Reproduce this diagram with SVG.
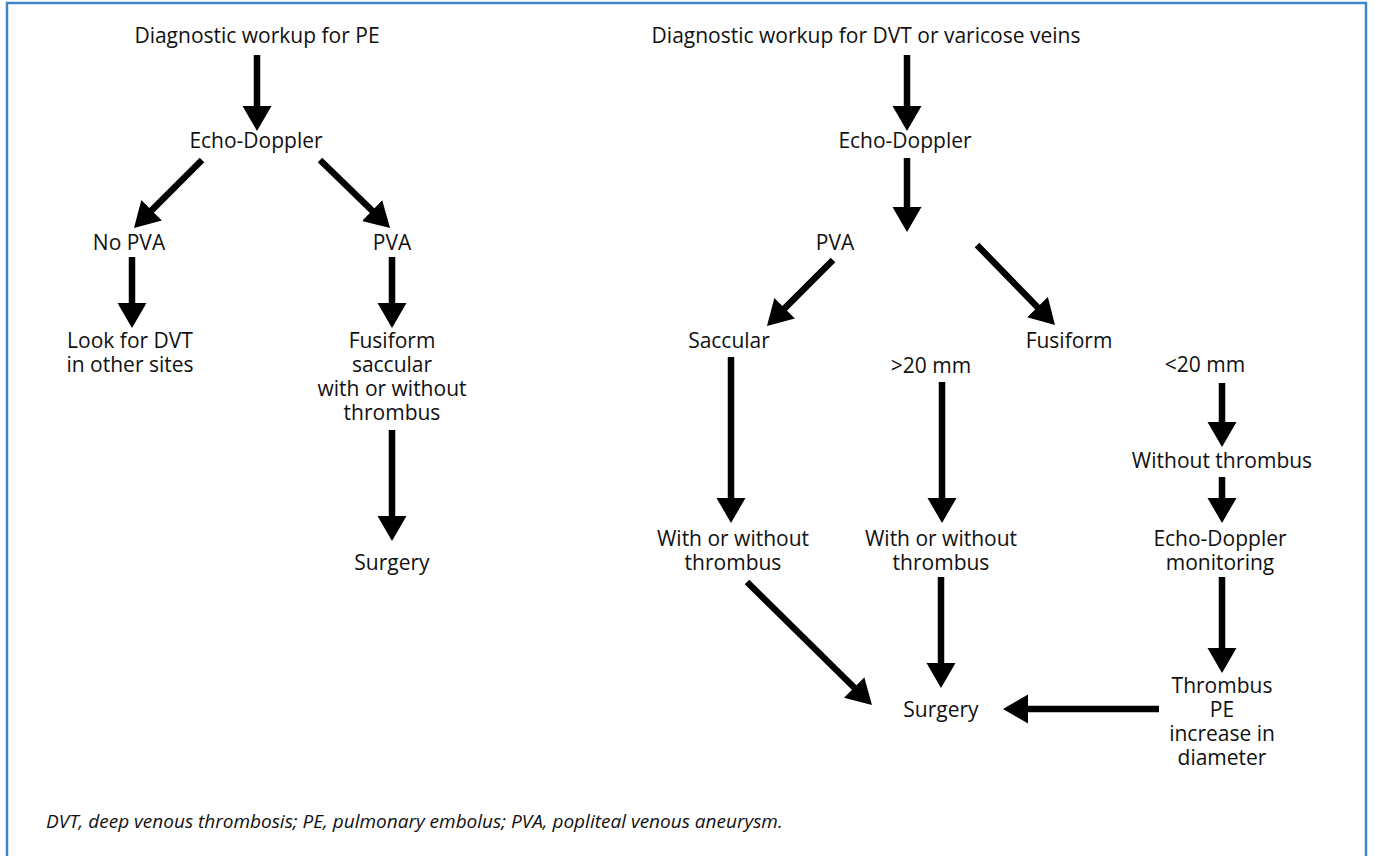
<svg xmlns="http://www.w3.org/2000/svg" width="1374" height="856" viewBox="0 0 1374 856">
<style>
.t{font-family:"Open Sans","Liberation Sans",sans-serif;font-size:21px;fill:#111;text-anchor:middle}
.f{font-family:"Open Sans","Liberation Sans",sans-serif;font-size:19px;font-style:italic;fill:#111}
.c line{stroke:#000;stroke-width:6.5;fill:none;marker-end:url(#ah)}
.frame{stroke:#3d85c6;stroke-width:2.5;fill:none}
</style>
<defs>
<marker id="ah" markerUnits="userSpaceOnUse" markerWidth="26" markerHeight="30" refX="5" refY="14.5" orient="auto" viewBox="0 0 26 29">
<path d="M0,0 L25,14.5 L0,29 z" fill="#000"/>
</marker>
</defs>
<rect width="1374" height="856" fill="#fff"/>
<path class="frame" d="M7,860 V3 H1366 V860"/>
<g id="connectors" class="c">
<line x1="257" y1="55" x2="257" y2="111"/>
<line x1="202" y1="160" x2="148.1" y2="213.9"/>
<line x1="320" y1="160" x2="375.7" y2="214.1"/>
<line x1="132" y1="257" x2="132" y2="308"/>
<line x1="392" y1="257" x2="392" y2="308"/>
<line x1="392" y1="430" x2="392" y2="521"/>
<line x1="907" y1="55" x2="907" y2="111"/>
<line x1="907" y1="158" x2="907" y2="212"/>
<line x1="833" y1="260" x2="781.1" y2="311.9"/>
<line x1="977" y1="245" x2="1041" y2="310.7"/>
<line x1="731" y1="357" x2="731" y2="503"/>
<line x1="942" y1="382" x2="942" y2="503"/>
<line x1="1222" y1="383" x2="1222" y2="427"/>
<line x1="1222" y1="477" x2="1222" y2="503"/>
<line x1="1222" y1="577" x2="1222" y2="653"/>
<line x1="941" y1="577" x2="941" y2="668"/>
<line x1="747" y1="582" x2="857.7" y2="691"/>
<line x1="1159" y1="709" x2="1023" y2="709"/>
</g>
<g id="pe-start"><text class="t" x="257" y="43">Diagnostic workup for PE</text></g>
<g id="pe-echo"><text class="t" x="256" y="148">Echo-Doppler</text></g>
<g id="pe-nopva"><text class="t" x="129" y="250">No PVA</text></g>
<g id="pe-pva"><text class="t" x="392" y="250">PVA</text></g>
<g id="pe-look"><text class="t" x="130" y="348">Look for DVT</text><text class="t" x="130" y="372">in other sites</text></g>
<g id="pe-fusiform"><text class="t" x="392" y="348">Fusiform</text><text class="t" x="392" y="372">saccular</text><text class="t" x="392" y="396">with or without</text><text class="t" x="392" y="420">thrombus</text></g>
<g id="pe-surgery"><text class="t" x="392" y="570">Surgery</text></g>
<g id="dvt-start"><text class="t" x="866" y="43">Diagnostic workup for DVT or varicose veins</text></g>
<g id="dvt-echo"><text class="t" x="905" y="148">Echo-Doppler</text></g>
<g id="dvt-pva"><text class="t" x="835" y="250">PVA</text></g>
<g id="dvt-saccular"><text class="t" x="729" y="348">Saccular</text></g>
<g id="dvt-gt20"><text class="t" x="931" y="373">&gt;20 mm</text></g>
<g id="dvt-fusiform"><text class="t" x="1069" y="348">Fusiform</text></g>
<g id="dvt-lt20"><text class="t" x="1205" y="372">&lt;20 mm</text></g>
<g id="dvt-without"><text class="t" x="1222" y="468">Without thrombus</text></g>
<g id="dvt-with1"><text class="t" x="733" y="546">With or without</text><text class="t" x="733" y="570">thrombus</text></g>
<g id="dvt-with2"><text class="t" x="941" y="546">With or without</text><text class="t" x="941" y="570">thrombus</text></g>
<g id="dvt-monitor"><text class="t" x="1220" y="546">Echo-Doppler</text><text class="t" x="1220" y="570">monitoring</text></g>
<g id="dvt-surgery"><text class="t" x="941" y="717">Surgery</text></g>
<g id="dvt-thrombus"><text class="t" x="1222" y="693">Thrombus</text><text class="t" x="1222" y="717">PE</text><text class="t" x="1222" y="741">increase in</text><text class="t" x="1222" y="765">diameter</text></g>
<g id="footnote"><text class="f" x="46" y="828">DVT, deep venous thrombosis; PE, pulmonary embolus; PVA, popliteal venous aneurysm.</text></g>
</svg>
